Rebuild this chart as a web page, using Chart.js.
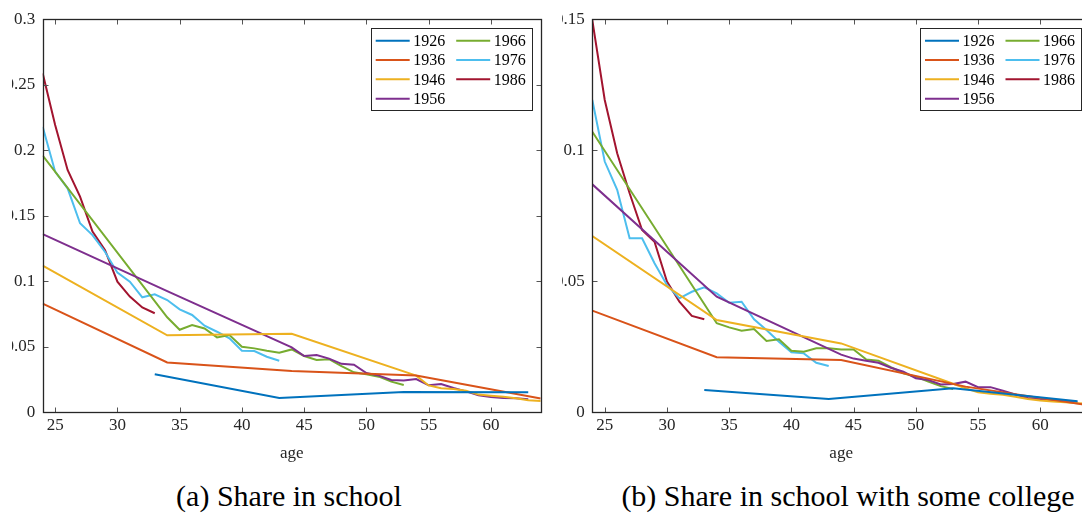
<!DOCTYPE html>
<html>
<head>
<meta charset="utf-8">
<script src="https://cdn.jsdelivr.net/npm/chart.js@4"></script>
<style>
  body { margin: 0; background: #fff; }
  #page { position: relative; width: 1082px; height: 513px; overflow: hidden; background: #fff; }
  .clip { position: absolute; top: 0; height: 470px; overflow: hidden; }
  .clip canvas { position: absolute; top: 0; }
  .caption { position: absolute; top: 478px; height: 36px; line-height: 36px; text-align: center;
             font-family: "Liberation Serif", serif; font-size: 30px; color: #000; white-space: nowrap; }
</style>
</head>
<body>
<div id="page">
  <div class="clip" style="left:12px; width:550px;"><canvas id="chartA" width="550" height="470" style="left:-12px; width:550px; height:470px;"></canvas></div>
  <div class="clip" style="left:562px; width:520px;"><canvas id="chartB" width="555" height="470" style="left:-17px; width:555px; height:470px;"></canvas></div>
  <div class="caption" style="left:89px; width:400px;">(a) Share in school</div>
  <div class="caption" style="left:598px; width:500px;">(b) Share in school with some college</div>
</div>
<script>
// cohorts and their colours (matlab default order)
const cohorts = ["1926", "1936", "1946", "1956", "1966", "1976", "1986"];
const colors = ["#0072BD", "#D95319", "#EDB120", "#7E2F8E", "#77AC30", "#4DBEEE", "#A2142F"];

const xTicks = [25, 30, 35, 40, 45, 50, 55, 60];
const yTicksA = [0, 0.05, 0.1, 0.15, 0.2, 0.25, 0.3];
const yTicksB = [0, 0.05, 0.1, 0.15];

// ages at which each cohort is observed
const ages1926 = [33, 43, 53, 63];
const ages1936 = [24, 34, 44, 54, 64];
const ages1946 = [24, 34, 44, 54, 55, 56, 57, 58, 59, 60, 61, 62, 63, 64];
const ages1956 = [24, 34, 44, 45, 46, 47, 48, 49, 50, 51, 52, 53, 54, 55, 56, 57, 58, 59, 60, 61, 62, 63];
const ages1966 = [24, 34, 35, 36, 37, 38, 39, 40, 41, 42, 43, 44, 45, 46, 47, 48, 49, 50, 51, 52, 53];
const ages1976 = [24, 25, 26, 27, 28, 29, 30, 31, 32, 33, 34, 35, 36, 37, 38, 39, 40, 41, 42, 43];
const ages1986 = [24, 25, 26, 27, 28, 29, 30, 31, 32, 33];

// (a) share in school
const school1926 = [0.029, 0.011, 0.0155, 0.0153];
const school1936 = [0.083, 0.038, 0.0315, 0.028, 0.0105];
const school1946 = [0.112, 0.0588, 0.060, 0.028, 0.0205, 0.0183, 0.0178, 0.0165, 0.0135, 0.0127, 0.0118, 0.0107, 0.0092, 0.0086];
const school1956 = [0.136, 0.0925, 0.0496, 0.043, 0.0437, 0.041, 0.037, 0.0363, 0.030, 0.028, 0.0247, 0.0243, 0.0254, 0.0206, 0.0216, 0.0185, 0.016, 0.013, 0.0117, 0.011, 0.0107, 0.0099];
const school1966 = [0.196, 0.0725, 0.063, 0.0666, 0.064, 0.0572, 0.059, 0.050, 0.0488, 0.047, 0.0455, 0.048, 0.043, 0.040, 0.0405, 0.0353, 0.0305, 0.029, 0.0272, 0.0234, 0.0208];
const school1976 = [0.218, 0.1837, 0.171, 0.1443, 0.1353, 0.1226, 0.1066, 0.0997, 0.0878, 0.090, 0.0857, 0.0786, 0.0743, 0.0661, 0.0615, 0.0565, 0.047, 0.0468, 0.0424, 0.0394];
const school1986 = [0.2588, 0.2193, 0.185, 0.1646, 0.138, 0.1239, 0.0997, 0.0883, 0.080, 0.0756];

// (b) share in school with some college
const college1926 = [0.0085, 0.0051, 0.0092, 0.0042];
const college1936 = [0.0388, 0.021, 0.020, 0.0098, 0.0026];
const college1946 = [0.0673, 0.0352, 0.0263, 0.0092, 0.0076, 0.0071, 0.0067, 0.0059, 0.0051, 0.0045, 0.0041, 0.0038, 0.0035, 0.0033];
const college1956 = [0.087, 0.0441, 0.022, 0.0205, 0.0197, 0.0189, 0.017, 0.0155, 0.013, 0.0123, 0.0106, 0.0108, 0.0117, 0.0096, 0.0096, 0.0082, 0.0068, 0.0055, 0.005, 0.0047, 0.0041, 0.0037];
const college1966 = [0.1071, 0.034, 0.0324, 0.0311, 0.0318, 0.0272, 0.0279, 0.0235, 0.0231, 0.0244, 0.0244, 0.024, 0.024, 0.0202, 0.0197, 0.0172, 0.0149, 0.0136, 0.0117, 0.010, 0.0089];
const college1976 = [0.1192, 0.0957, 0.0849, 0.0664, 0.0664, 0.0569, 0.0486, 0.0435, 0.046, 0.0477, 0.0454, 0.0418, 0.0422, 0.0355, 0.0314, 0.0269, 0.0229, 0.0225, 0.0189, 0.0177];
const college1986 = [0.1497, 0.1192, 0.0989, 0.0836, 0.0696, 0.0651, 0.0499, 0.0422, 0.0368, 0.0355];

const ageLists = [ages1926, ages1936, ages1946, ages1956, ages1966, ages1976, ages1986];
const schoolLists = [school1926, school1936, school1946, school1956, school1966, school1976, school1986];
const collegeLists = [college1926, college1936, college1946, college1956, college1966, college1976, college1986];

const serif = "'Liberation Serif', 'Times New Roman', serif";
const axisColor = "#262626";

function buildDatasets(values) {
  return cohorts.map((c, i) => ({
    label: c,
    data: ageLists[i].map((a, j) => ({ x: a, y: values[i][j] })),
    borderColor: colors[i],
    backgroundColor: colors[i],
    borderWidth: 2,
    pointRadius: 0,
    tension: 0,
  }));
}

// box round the plot with inward ticks, like matlab
const frame = {
  id: "frame",
  afterDatasetsDraw(chart) {
    const { ctx, chartArea: a, scales } = chart;
    const L = Math.round(a.left) + 0.5, R = Math.round(a.right) + 0.5;
    const T = Math.round(a.top) + 0.5, B = Math.round(a.bottom) + 0.5;
    ctx.save();
    ctx.strokeStyle = "#555";
    ctx.lineWidth = 1;
    ctx.beginPath();
    scales.x.ticks.forEach(t => {
      const px = Math.round(scales.x.getPixelForValue(t.value)) + 0.5;
      ctx.moveTo(px, B); ctx.lineTo(px, B - 5);
      ctx.moveTo(px, T); ctx.lineTo(px, T + 5);
    });
    scales.y.ticks.forEach(t => {
      const py = Math.round(scales.y.getPixelForValue(t.value)) + 0.5;
      ctx.moveTo(L, py); ctx.lineTo(L + 5, py);
      ctx.moveTo(R, py); ctx.lineTo(R - 5, py);
    });
    ctx.stroke();
    ctx.strokeStyle = axisColor;
    ctx.lineWidth = 1.3;
    ctx.strokeRect(L, T, R - L, B - T);
    ctx.restore();
  },
};

// legend in the top right corner, filled column by column
const boxLegend = {
  id: "boxLegend",
  afterDraw(chart) {
    const { ctx, chartArea: a } = chart;
    const w = 161, h = 82;
    const x0 = a.right - 9 - w, y0 = a.top + 9;
    ctx.save();
    ctx.fillStyle = "#fff";
    ctx.fillRect(x0, y0, w, h);
    ctx.strokeStyle = axisColor;
    ctx.lineWidth = 1;
    ctx.strokeRect(Math.round(x0) + 0.5, Math.round(y0) + 0.5, w, h);
    ctx.font = "16px " + serif;
    ctx.textBaseline = "middle";
    ctx.fillStyle = "#000";
    chart.data.datasets.forEach((ds, i) => {
      const col = Math.floor(i / 4), row = i % 4;
      const lx = x0 + 5 + col * 80.5;
      const ly = y0 + 12.4 + row * 19.33;
      ctx.strokeStyle = ds.borderColor;
      ctx.lineWidth = 2;
      ctx.beginPath();
      ctx.moveTo(lx, ly); ctx.lineTo(lx + 34, ly);
      ctx.stroke();
      ctx.fillText(ds.label, lx + 37.5, ly + 1);
    });
    ctx.restore();
  },
};

function makeChart(id, values, yMax, yTicks, yWidth, rightPad) {
  return new Chart(document.getElementById(id), {
    type: "line",
    data: { datasets: buildDatasets(values) },
    plugins: [frame, boxLegend],
    options: {
      responsive: false,
      animation: false,
      layout: { padding: { top: 19.3, right: rightPad, left: 0, bottom: 0 } },
      scales: {
        x: {
          type: "linear",
          min: 24,
          max: 64,
          grid: { display: false, drawTicks: false, tickLength: 0 },
          border: { display: false },
          afterBuildTicks: s => { s.ticks = xTicks.map(v => ({ value: v })); },
          afterFit: s => { s.height = 57.7; },
          ticks: { font: { family: serif, size: 17 }, color: axisColor, padding: 3, maxRotation: 0, autoSkip: false },
          title: { display: true, text: "age", font: { family: serif, size: 17 }, color: axisColor, padding: { top: 0, bottom: 6 } },
        },
        y: {
          type: "linear",
          min: 0,
          max: yMax,
          grid: { display: false, drawTicks: false, tickLength: 0 },
          border: { display: false },
          afterBuildTicks: s => { s.ticks = yTicks.map(v => ({ value: v })); },
          afterFit: s => { s.width = yWidth; },
          ticks: { font: { family: serif, size: 17 }, color: axisColor, padding: 7.5, callback: v => String(v) },
        },
      },
      plugins: { legend: { display: false }, tooltip: { enabled: false } },
    },
  });
}

makeChart("chartA", schoolLists, 0.3, yTicksA, 42.7, 9.3);
makeChart("chartB", collegeLists, 0.15, yTicksB, 47.3, 10);
</script>
</body>
</html>
